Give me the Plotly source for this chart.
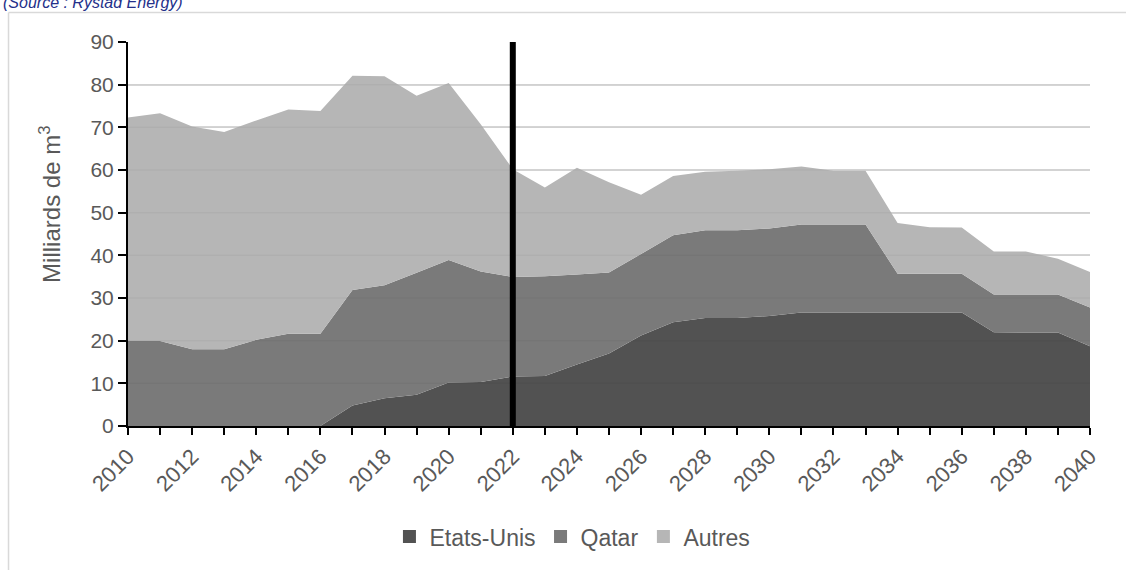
import plotly.graph_objects as go

years = list(range(2010, 2041))
etats_unis = [0, 0, 0, 0, 0, 0, 0, 4.8, 6.5, 7.3, 10.2, 10.3, 11.6, 11.7, 14.4, 17.0,
              21.2, 24.3, 25.3, 25.3, 25.8, 26.6, 26.6, 26.6, 26.6, 26.6, 26.6, 22.0,
              21.9, 21.9, 18.7]
qatar = [19.9, 19.9, 18.0, 18.0, 20.2, 21.6, 21.6, 27.1, 26.5, 28.6, 28.7, 25.9, 23.3,
         23.4, 21.1, 19.0, 19.1, 20.4, 20.6, 20.6, 20.5, 20.6, 20.6, 20.6, 9.1, 9.1,
         9.1, 8.8, 8.9, 8.9, 9.1]
autres = [52.4, 53.4, 52.2, 50.9, 51.4, 52.6, 52.2, 50.2, 49.0, 41.5, 41.5, 34.5, 25.3,
          20.8, 25.0, 21.1, 13.9, 13.9, 13.7, 13.9, 13.9, 13.6, 12.6, 12.6, 11.9, 10.9,
          10.8, 10.1, 10.1, 8.4, 8.3]
tick_labels = [str(y) if y % 2 == 0 else "" for y in years]
y_ticks = list(range(0, 100, 10))
marker_year = 2022

series = [("Etats-Unis", etats_unis, "#525252"),
          ("Qatar", qatar, "#7a7a7a"),
          ("Autres", autres, "#b6b6b6")]

fig = go.Figure()
for name, vals, col in series:
    fig.add_trace(go.Scatter(x=years, y=vals, stackgroup="one", mode="none",
                             fillcolor=col, name=name, showlegend=False,
                             hoverinfo="x+y+name"))
for name, vals, col in series:
    fig.add_trace(go.Scatter(x=[None], y=[None], mode="markers", name=name,
                             marker=dict(symbol="square", size=13, color=col)))

# faint gridlines showing through the areas
for i, v in enumerate(y_ticks[1:-1]):
    tops = [a + b + c for a, b, c in zip(etats_unis, qatar, autres)]
    fig.add_shape(type="line", xref="x", yref="y", x0=years[0], x1=years[-1], y0=v, y1=v,
                  line=dict(color="rgba(0,0,0,0.035)", width=1.5), layer="above")

# vertical marker line
fig.add_shape(type="line", xref="x", yref="y", x0=marker_year, x1=marker_year,
              y0=0, y1=y_ticks[-1], line=dict(color="black", width=6), layer="above")

# chart frame (partially visible)
fig.add_shape(type="line", xref="paper", yref="paper", x0=-0.1242, x1=1.2,
              y0=1.0771, y1=1.0771, line=dict(color="#d9d9d9", width=1.5))
fig.add_shape(type="line", xref="paper", yref="paper", x0=-0.1242, x1=-0.1242,
              y0=1.0771, y1=-0.5, line=dict(color="#d9d9d9", width=1.5))

fig.add_annotation(text="<i>(Source : Rystad Energy)</i>", xref="paper", yref="paper",
                   x=-0.1325, y=1.102, xanchor="left", yanchor="middle", showarrow=False,
                   font=dict(family="Liberation Sans, Arial", size=16, color="#24308a"))

# y axis title
fig.add_annotation(text="Milliards de m<sup>3</sup>", xref="paper", yref="paper",
                   x=(50 - 128) / 962, y=(431 - 207) / 389, xanchor="center",
                   yanchor="middle", textangle=-90, showarrow=False,
                   font=dict(family="Liberation Sans, Arial", size=24, color="#595959"))

fig.update_layout(
    width=1126, height=570,
    margin=dict(l=128, r=36, t=42, b=139),
    paper_bgcolor="white", plot_bgcolor="white",
    font=dict(family="Liberation Sans, Arial", color="#595959", size=21),
    legend=dict(orientation="h", x=0.462, xanchor="center", y=-0.288, yanchor="middle",
                font=dict(size=23, color="#595959"), itemwidth=30, traceorder="normal"),
    xaxis=dict(range=[years[0], years[-1]], tickvals=years, ticktext=tick_labels,
               tickangle=-45, ticks="outside", ticklen=7, tickwidth=1.5, tickcolor="black",
               showline=True, linecolor="black", linewidth=2, showgrid=False,
               zeroline=False, tickfont=dict(size=22, color="#595959")),
    yaxis=dict(range=[0, 90], tickvals=y_ticks, ticks="outside", ticklen=8, tickwidth=1.5,
               tickcolor="black", showline=True, linecolor="black", linewidth=2,
               showgrid=True, gridcolor="#d9d9d9", gridwidth=1.5, zeroline=False,
               tickfont=dict(size=21, color="#595959")),
)

fig.write_html("out.html")
